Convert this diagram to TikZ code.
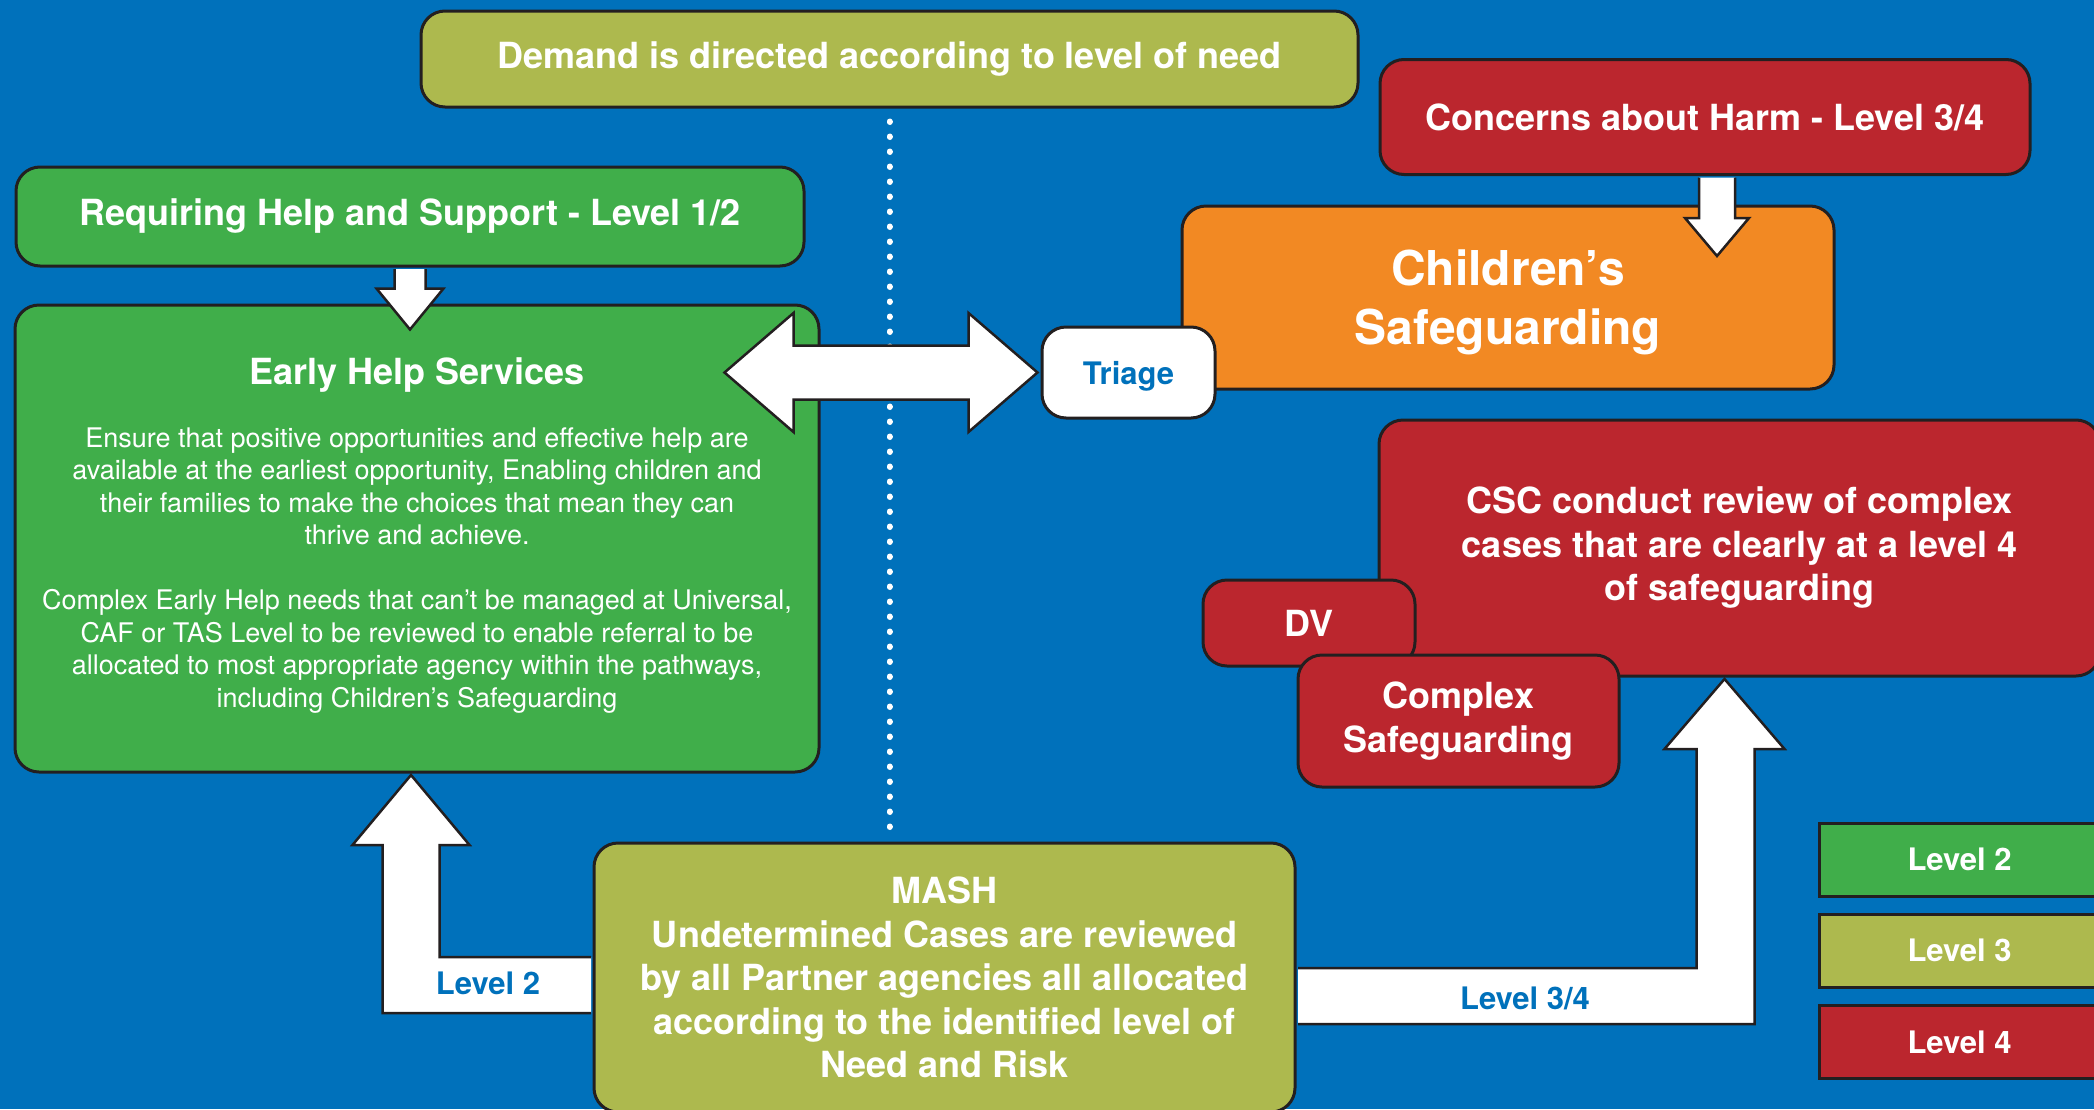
\documentclass[tikz,border=0pt]{standalone}
\usepackage{fontspec}
\setmainfont{TeX Gyre Heros}
\usepackage{tikz}
\usetikzlibrary{calc}

\definecolor{pageblue}{RGB}{0,113,187}
\definecolor{levelgreen}{RGB}{64,174,74}
\definecolor{levelolive}{RGB}{173,185,78}
\definecolor{levelred}{RGB}{187,38,46}
\definecolor{safeorange}{RGB}{242,137,35}
\definecolor{edgegrey}{RGB}{35,31,32}

\tikzset{
    panel/.style={draw=edgegrey, line width=3pt, rounded corners=24pt, text=white, align=center, inner sep=0pt},
    greenpanel/.style={panel, fill=levelgreen},
    olivepanel/.style={panel, fill=levelolive},
    redpanel/.style={panel, fill=levelred},
    orangepanel/.style={panel, fill=safeorange},
    keybox/.style={draw=edgegrey, line width=3pt, text=white, minimum width=281pt, minimum height=73pt, inner sep=0pt, font=\fontsize{31}{37}\selectfont\bfseries},
    blockarrow/.style={draw=edgegrey, fill=white, line width=2.5pt},
    dotline/.style={draw=white, line width=6pt, line cap=round, dash pattern=on 0.5pt off 14.5pt},
    headfont/.style={font=\fontsize{36}{43.5}\selectfont\bfseries},
    bodyfont/.style={font=\fontsize{27}{32.5}\selectfont},
    armlabel/.style={text=pageblue, font=\fontsize{31}{37}\selectfont\bfseries},
}

\begin{document}
\begin{tikzpicture}[x=1pt, y=-1pt]
    \useasboundingbox (0,0) rectangle (2094,1109);
    \clip (0,0) rectangle (2094,1109);
    \fill[pageblue] (0,0) rectangle (2094,1109);

    \node[olivepanel, headfont, minimum width=937pt, minimum height=96pt] (demand) at (889.5,59) {Demand is directed according to level of need};
    \node[greenpanel, headfont, minimum width=788pt, minimum height=99pt] (req) at (410,216.5) {Requiring Help and Support - Level 1/2};
    \node[greenpanel, minimum width=804pt, minimum height=467pt] (early) at (417,538.5) {};
    \node[headfont, text=white] (earlytitle) at ($(early.north)+(0,72)$) {Early Help Services};
    \node[bodyfont, text=white, align=center] (earlytext) at ($(early.north)+(0,267)$) {Ensure that positive opportunities and effective help are\\available at the earliest opportunity, Enabling children and\\their families to make the choices that mean they can\\thrive and achieve.\\[32.5pt]Complex Early Help needs that can’t be managed at Universal,\\CAF or TAS Level to be reviewed to enable referral to be\\allocated to most appropriate agency within the pathways,\\including Children’s Safeguarding};

    \draw[dotline] ($(demand.south)+(0,13)$) -- ($(demand.south |- early.north)+(0,535)$);

    \node[redpanel, headfont, minimum width=650pt, minimum height=115pt] (concerns) at (1705,117) {Concerns about Harm - Level 3/4};
    \node[orangepanel, minimum width=652pt, minimum height=183pt] (csg) at (1508,297.5) {};
    \node[text=white, align=center, font=\fontsize{48}{59}\selectfont\bfseries] (csgtext) at ($(csg.center)+(0,5)$) {Children’s\\Safeguarding};
    \node[panel, fill=white, text=pageblue, font=\fontsize{31}{37}\selectfont\bfseries, minimum width=173pt, minimum height=91pt] (triage) at (1128.5,372.5) {\raisebox{-4pt}[\height][\depth]{Triage}};

    \node[redpanel, headfont, minimum width=721pt, minimum height=256pt] (csc) at (1739.5,548) {CSC conduct review of complex\\cases that are clearly at a level 4\\of safeguarding};
    \node[redpanel, headfont, minimum width=212pt, minimum height=86pt] (dv) at (1309,623) {DV};
    \node[redpanel, headfont, minimum width=321pt, minimum height=132pt] (complex) at (1458.5,721) {Complex\\Safeguarding};

    \node[keybox, fill=levelgreen] (keytwo) at (1959.5,859.5) {Level 2};
    \node[keybox, fill=levelolive] (keythree) at (1959.5,950.5) {Level 3};
    \node[keybox, fill=levelred] (keyfour) at (1959.5,1042) {Level 4};

    \node[olivepanel, headfont, minimum width=701pt, minimum height=269pt] (mash) at (944.5,977.5) {MASH\\Undetermined Cases are reviewed\\by all Partner agencies all allocated\\according to the identified level of\\Need and Risk};

    \filldraw[blockarrow] ($(req.south)+(-15.5,1.5)$) -- ++(0,19.5) -- ++(-18,0) -- ++(33.5,41) -- ++(33.5,-41) -- ++(-18,0) -- ++(0,-19.5);
    \filldraw[blockarrow] ($(concerns.south)+(-6,1.5)$) -- ++(0,40.5) -- ++(-14,0) -- ++(32,38) -- ++(32,-38) -- ++(-14,0) -- ++(0,-40.5);
    \filldraw[blockarrow] ($(triage.west)+(-3,0)$) -- ++(-69,-59.5) -- ++(0,32.5) -- ++(-175,0) -- ++(0,-32.5) -- ++(-69,59.5) -- ++(69,59.5) -- ++(0,-32.5) -- ++(175,0) -- ++(0,32.5) -- cycle;
    \filldraw[blockarrow] ($(mash.west)+(-1.5,-20.5)$) -- ++(-151.5,0) -- ++(0,-112) -- ++(30,0) -- ++(-58.5,-70) -- ++(-58.5,70) -- ++(30,0) -- ++(0,168) -- ++(208.5,0);
    \filldraw[blockarrow] ($(mash.east)+(1.5,-9.5)$) -- ++(398.5,0) -- ++(0,-219) -- ++(-32,0) -- ++(60,-70) -- ++(60,70) -- ++(-30,0) -- ++(0,275) -- ++(-456.5,0);

    \node[armlabel] (lvtwo) at (488,983) {Level 2};
    \node[armlabel] (lvthreefour) at (1525,998) {Level 3/4};
\end{tikzpicture}
\end{document}
